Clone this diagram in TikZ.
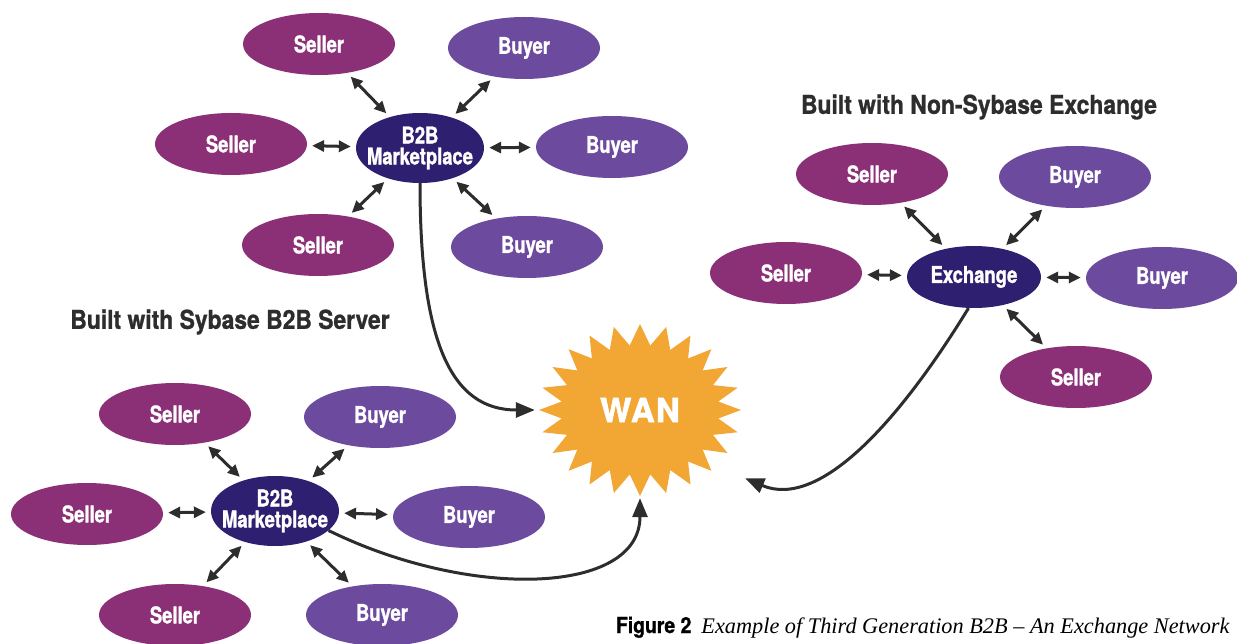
\documentclass[tikz,border=0pt]{standalone}
\usepackage{fontspec}
\setsansfont{TeX Gyre Heros}[FakeStretch=0.8,BoldFeatures={FakeBold=1.2}]
\newfontfamily\headfont{TeX Gyre Heros}[FakeStretch=0.88,BoldFeatures={FakeBold=1}]
\newfontfamily\wanfont{TeX Gyre Heros}[LetterSpace=4,BoldFeatures={FakeBold=2}]
\newfontfamily\capfont{Liberation Serif}
\usetikzlibrary{arrows.meta,shapes.geometric}

\definecolor{sellercol}{RGB}{139,47,118}
\definecolor{buyercol}{RGB}{108,74,158}
\definecolor{hubcol}{RGB}{47,31,112}
\definecolor{wancol}{RGB}{242,166,52}
\definecolor{inkcol}{RGB}{45,45,45}

\begin{document}
\begin{tikzpicture}[x=1pt,y=-1pt]
		\tikzstyle{seller}=[ellipse,fill=sellercol,text=white,minimum width=152pt,minimum height=62pt,inner sep=0pt,font=\sffamily\bfseries\fontsize{23}{21}\selectfont]
		\tikzstyle{buyer}=[seller,fill=buyercol]
		\tikzstyle{hub}=[seller,fill=hubcol,minimum width=128pt,minimum height=70pt,inner xsep=-10pt,align=center]
		\tikzstyle{title}=[text=inkcol,font=\headfont\bfseries\fontsize{26}{26}\selectfont]
		\tikzstyle{link}=[{Triangle[length=12pt,width=11pt]}-{Triangle[length=12pt,width=11pt]},line width=3pt,draw=inkcol,shorten <=5pt,shorten >=5pt]
		\tikzstyle{feed}=[-{Triangle[length=19pt,width=15pt]},line width=3pt,draw=inkcol]
		\useasboundingbox (0,0) rectangle (1237,644);

		% top marketplace
		\node[hub] (mkA) at (420,148) {B2B\\Marketplace};
		\node[seller] (sA1) at (319,44) {Seller};
		\node[seller] (sA2) at (231,144) {Seller};
		\node[seller] (sA3) at (318,245) {Seller};
		\node[buyer] (bA1) at (524,48) {Buyer};
		\node[buyer] (bA2) at (612,147) {Buyer};
		\node[buyer] (bA3) at (527,247) {Buyer};
		\foreach \p in {sA1,sA2,sA3,bA1,bA2,bA3}
			\draw[link] (\p) -- (mkA);

		% exchange
		\node[title] (rtitle) at (979,107) {Built with Non-Sybase Exchange};
		\node[hub,minimum width=134pt,minimum height=62pt] (exch) at (974,277) {Exchange};
		\node[seller] (sC1) at (872,174) {Seller};
		\node[seller] (sC2) at (786,273) {Seller};
		\node[seller] (sC3) at (1076,377) {Seller};
		\node[buyer] (bC1) at (1075,177) {Buyer};
		\node[buyer] (bC2) at (1162,278) {Buyer};
		\foreach \p in {sC1,sC2,sC3,bC1,bC2}
			\draw[link] (\p) -- (exch);

		% lower marketplace
		\node[title] (ltitle) at (230,322) {Built with Sybase B2B Server};
		\node[hub] (mkB) at (275,511) {B2B\\Marketplace};
		\node[seller] (sB1) at (175,414) {Seller};
		\node[seller] (sB2) at (87,514) {Seller};
		\node[seller] (sB3) at (175,615) {Seller};
		\node[buyer] (bB1) at (380,417) {Buyer};
		\node[buyer] (bB2) at (469,517) {Buyer};
		\node[buyer] (bB3) at (382,615) {Buyer};
		\foreach \p in {sB1,sB2,sB3,bB1,bB2,bB3}
			\draw[link] (\p) -- (mkB);

		% WAN burst
		\fill[wancol,shift={(640,410)}] (0:101 and 85)
			\foreach \i [evaluate=\i as \rx using {mod(\i,2)==0?101:79},
			             evaluate=\i as \ry using {mod(\i,2)==0?86:65}] in {1,...,47}
			{ -- (\i*7.5:{\rx} and {\ry}) } -- cycle;
		\node[rectangle,minimum width=210pt,minimum height=176pt,text=white,
			font=\wanfont\bfseries\fontsize{33}{33}\selectfont] (wan) at (640,410) {WAN};

		\draw[feed] (mkA.south) .. controls (420,340) and (450,410) .. (wan.west);
		\draw[feed] (exch.-100) .. controls (900,420) and (820,510) .. (wan.-33);
		\draw[feed] (mkB.-20) .. controls (470,600) and (640,595) .. (wan.south);

		\node[anchor=base east] (cap) at (1233,633)
			{{\headfont\bfseries\fontsize{22}{22}\selectfont Figure 2}\quad
			 {\capfont\itshape\fontsize{22.3}{22.3}\selectfont Example of Third Generation B2B – An Exchange Network}};
	\end{tikzpicture}
\end{document}
